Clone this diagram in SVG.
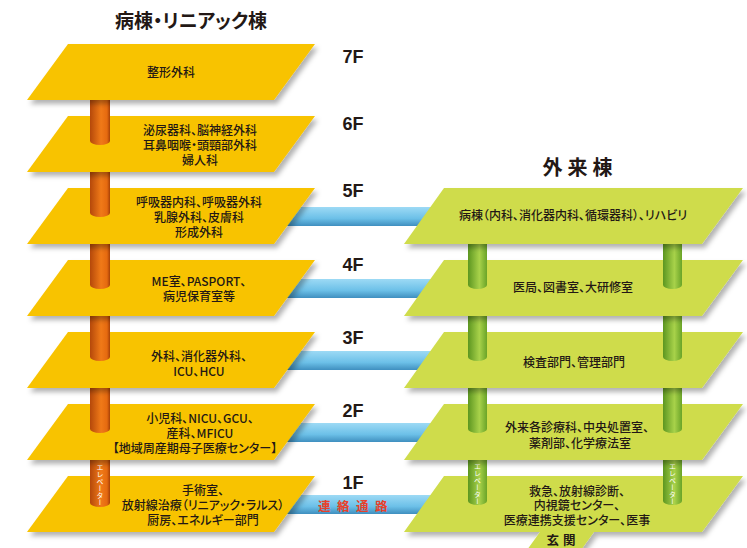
<svg xmlns="http://www.w3.org/2000/svg" width="747" height="548" viewBox="0 0 747 548">
<defs>
<style>
.t{font-family:"Noto Sans CJK JP","Noto Sans",sans-serif;font-size:12px;fill:#231815;text-anchor:middle;font-feature-settings:"palt" 1;font-weight:500}
.fl{font-family:"Liberation Sans",Arial,sans-serif;font-size:18px;font-weight:bold;fill:#231815;text-anchor:middle}
.ttl{font-family:"Noto Sans CJK JP",sans-serif;font-weight:bold;fill:#231815;text-anchor:middle;font-feature-settings:"palt" 1}
.ev{font-family:"Noto Sans CJK JP",sans-serif;font-size:7px;fill:#fff;writing-mode:vertical-rl}
.yl{fill:#f8c300;filter:url(#sh)}
.gr{fill:#cfdc4b;filter:url(#sh)}
.osh{fill:url(#og)}
.gsh{fill:url(#gg)}
.br{fill:url(#bg)}
</style>
<filter id="sh" x="-10%" y="-20%" width="125%" height="160%">
<feDropShadow dx="3" dy="4" stdDeviation="2.5" flood-color="#000" flood-opacity="0.3"/>
</filter>
<linearGradient id="og" x1="0" y1="0" x2="1" y2="0">
<stop offset="0" stop-color="#b5480a"/>
<stop offset="0.55" stop-color="#f07a18"/>
<stop offset="0.85" stop-color="#e56a10"/>
<stop offset="1" stop-color="#a84006"/>
</linearGradient>
<linearGradient id="gg" x1="0" y1="0" x2="1" y2="0">
<stop offset="0" stop-color="#5c9620"/>
<stop offset="0.6" stop-color="#a8d24a"/>
<stop offset="1" stop-color="#6aa428"/>
</linearGradient>
<linearGradient id="bg" x1="0" y1="0" x2="0" y2="1">
<stop offset="0" stop-color="#9ddaf5"/>
<stop offset="0.6" stop-color="#6cc0e8"/>
<stop offset="1" stop-color="#3f8fbf"/>
</linearGradient>
</defs>
<rect width="747" height="548" fill="#fff"/>

<text class="ttl" x="191" y="28" font-size="19">病棟・リニアック棟</text>
<text class="ttl" x="580" y="175" font-size="20" letter-spacing="5">外来棟</text>

<g id="connectors">
<rect class="br" x="285" y="207" width="160" height="19"/>
<rect class="br" x="285" y="279" width="160" height="19"/>
<rect class="br" x="285" y="351" width="160" height="19"/>
<rect class="br" x="285" y="423" width="160" height="19"/>
<rect class="br" x="285" y="495" width="160" height="19"/>
<text x="356" y="510.5" font-family="Noto Sans CJK JP,sans-serif" font-size="12.5" font-weight="bold" fill="#e8402a" text-anchor="middle" letter-spacing="6.5">連絡通路</text>
</g>

<!-- Left building, bottom to top -->
<g id="L1F">
<polygon class="yl" points="68,476 315,476 274,532 27,532"/>
<path class="osh" d="M90,455 V503 A10,4 0 0 0 110,503 V455 Z"/>
<text class="ev" x="100" y="464">エレベーター</text>
<text class="t" x="203" y="494.5">手術室、<tspan x="203" dy="15">放射線治療（リニアック・ラルス）</tspan><tspan x="203" dy="15">厨房、エネルギー部門</tspan></text>
<text class="fl" x="353" y="488.5">1F</text>
</g>
<g id="L2F">
<polygon class="yl" points="68,404 315,404 274,460 27,460"/>
<path class="osh" d="M90,383 V429 A10,4 0 0 0 110,429 V383 Z"/>
<text class="t" x="200" y="422.5">小児科、NICU、GCU、<tspan x="200" dy="15">産科、MFICU</tspan><tspan x="195" dy="15">【地域周産期母子医療センター】</tspan></text>
<text class="fl" x="353" y="416.5">2F</text>
</g>
<g id="L3F">
<polygon class="yl" points="68,332 315,332 274,388 27,388"/>
<path class="osh" d="M90,311 V357 A10,4 0 0 0 110,357 V311 Z"/>
<text class="t" x="199" y="360.5">外科、消化器外科、<tspan x="199" dy="15">ICU、HCU</tspan></text>
<text class="fl" x="353" y="343.5">3F</text>
</g>
<g id="L4F">
<polygon class="yl" points="68,260 315,260 274,316 27,316"/>
<path class="osh" d="M90,239 V285 A10,4 0 0 0 110,285 V239 Z"/>
<text class="t" x="199" y="285.5">ME室、PASPORT、<tspan x="199" dy="15">病児保育室等</tspan></text>
<text class="fl" x="353" y="270.5">4F</text>
</g>
<g id="L5F">
<polygon class="yl" points="68,188 315,188 274,244 27,244"/>
<path class="osh" d="M90,167 V213 A10,4 0 0 0 110,213 V167 Z"/>
<text class="t" x="199" y="206.5">呼吸器内科、呼吸器外科<tspan x="199" dy="15">乳腺外科、皮膚科</tspan><tspan x="199" dy="15">形成外科</tspan></text>
<text class="fl" x="353" y="196.5">5F</text>
</g>
<g id="L6F">
<polygon class="yl" points="68,116 315,116 274,172 27,172"/>
<path class="osh" d="M90,95 V141 A10,4 0 0 0 110,141 V95 Z"/>
<text class="t" x="200" y="135">泌尿器科、脳神経外科<tspan x="200" dy="15">耳鼻咽喉・頭頸部外科</tspan><tspan x="200" dy="15">婦人科</tspan></text>
<text class="fl" x="353" y="129.5">6F</text>
</g>
<g id="L7F">
<polygon class="yl" points="68,44 315,44 274,100 27,100"/>
<text class="t" x="171" y="76.5">整形外科</text>
<text class="fl" x="353" y="62.5">7F</text>
</g>

<!-- Outpatient building, bottom to top -->
<g id="R1F">
<polygon class="gr" points="444,476 743,476 702,532 594,532 581,550 527,550 540,532 404,532"/>
<path class="gsh" d="M468,455 V501 A9.5,4 0 0 0 487,501 V455 Z"/>
<path class="gsh" d="M663,455 V501 A9.5,4 0 0 0 682,501 V455 Z"/>
<text class="ev" x="477.5" y="463">エレベーター</text>
<text class="ev" x="672.5" y="463">エレベーター</text>
<text class="t" x="577" y="495.5">救急、放射線診断、<tspan x="577" dy="14.5">内視鏡センター、</tspan><tspan x="577" dy="14.5">医療連携支援センター、医事</tspan></text>
<text class="ttl" x="563" y="545" font-size="12.5" letter-spacing="4">玄関</text>
</g>
<g id="R2F">
<polygon class="gr" points="444,404 743,404 702,460 404,460"/>
<path class="gsh" d="M468,383 V429 A9.5,4 0 0 0 487,429 V383 Z"/>
<path class="gsh" d="M663,383 V429 A9.5,4 0 0 0 682,429 V383 Z"/>
<text class="t" x="577" y="431.5">外来各診療科、中央処置室、<tspan x="580" dy="16">薬剤部、化学療法室</tspan></text>
</g>
<g id="R3F">
<polygon class="gr" points="444,332 743,332 702,388 404,388"/>
<path class="gsh" d="M468,311 V357 A9.5,4 0 0 0 487,357 V311 Z"/>
<path class="gsh" d="M663,311 V357 A9.5,4 0 0 0 682,357 V311 Z"/>
<text class="t" x="574" y="366.5">検査部門、管理部門</text>
</g>
<g id="R4F">
<polygon class="gr" points="444,260 743,260 702,316 404,316"/>
<path class="gsh" d="M468,239 V285 A9.5,4 0 0 0 487,285 V239 Z"/>
<path class="gsh" d="M663,239 V285 A9.5,4 0 0 0 682,285 V239 Z"/>
<text class="t" x="573" y="291.5">医局、図書室、大研修室</text>
</g>
<g id="R5F">
<polygon class="gr" points="444,188 743,188 702,244 404,244"/>
<text class="t" x="573" y="219.5">病棟（内科、消化器内科、循環器科）、リハビリ</text>
</g>
</svg>
